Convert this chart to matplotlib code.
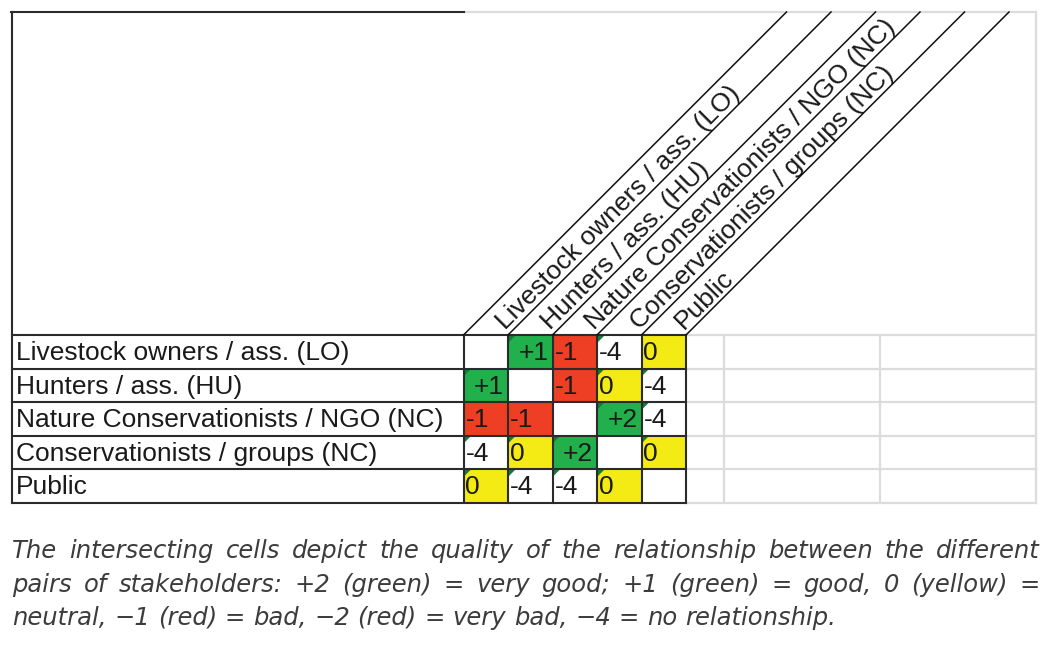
import matplotlib
matplotlib.use("Agg")
import matplotlib.pyplot as plt
from matplotlib.patches import Rectangle, Polygon

# stakeholders (rows and diagonal column headers)
stakeholders = [
    "Livestock owners / ass. (LO)",
    "Hunters / ass. (HU)",
    "Nature Conservationists / NGO (NC)",
    "Conservationists / groups (NC)",
    "Public",
]

# relationship quality, None = same stakeholder
relations = [
    [None, 1, -1, -4, 0],
    [1, None, -1, 0, -4],
    [-1, -1, None, 2, -4],
    [-4, 0, 2, None, 0],
    [0, -4, -4, 0, None],
]

# small green corner markers (spreadsheet flags)
flagged = [
    [0, 1, 0, 1, 0],
    [1, 0, 0, 1, 1],
    [0, 0, 0, 1, 1],
    [1, 1, 1, 0, 1],
    [1, 1, 1, 1, 0],
]

caption_lines = [
    "The intersecting cells depict the quality of the relationship between the different",
    "pairs of stakeholders: +2 (green) = very good; +1 (green) = good, 0 (yellow) =",
    "neutral, \u22121 (red) = bad, \u22122 (red) = very bad, \u22124 = no relationship.",
]

GREEN = "#21b04b"
RED = "#ee3e24"
YELLOW = "#f4eb14"
FLAG = "#177a38"
DARK = "#2b2b2b"
LIGHT = "#dcdcdc"
FS = 19


def cell_color(v):
    if v is None or v == -4:
        return "white"
    if v > 0:
        return GREEN
    if v == 0:
        return YELLOW
    return RED


def cell_text(v):
    if v is None:
        return ""
    if v > 0:
        return "+%d" % v
    return "%d" % v


plt.rcParams["font.family"] = ["Liberation Sans", "DejaVu Sans"]

fig = plt.figure(figsize=(10.51, 6.52), dpi=100)
ax = fig.add_axes([0, 0, 1, 1])
ax.set_xlim(0, 1051)
ax.set_ylim(652, 0)
ax.axis("off")

# layout (pixels)
left, top = 12, 12
grid_x0 = 463.5
cw, rh = 44.5, 33.5
grid_y0 = 335
n = len(stakeholders)
grid_x1 = grid_x0 + n * cw
grid_y1 = grid_y0 + n * rh
right = 1036
extra_cols = [grid_x1, 724, 880, right]

# light grey spreadsheet frame on the right
ax.plot([grid_x0, right], [top, top], color=LIGHT, lw=1.6, zorder=1)
ax.plot([right, right], [top, grid_y1], color=LIGHT, lw=1.6, zorder=1)
for i in range(n + 1):
    y = grid_y0 + i * rh
    ax.plot([grid_x1, right], [y, y], color=LIGHT, lw=1.6, zorder=1)
for x in extra_cols[1:-1]:
    ax.plot([x, x], [grid_y0, grid_y1], color=LIGHT, lw=1.6, zorder=1)

# cells
for r, row in enumerate(relations):
    for c, v in enumerate(row):
        x = grid_x0 + c * cw
        y = grid_y0 + r * rh
        ax.add_patch(Rectangle((x, y), cw, rh, facecolor=cell_color(v),
                               edgecolor="none", zorder=2))
        if flagged[r][c]:
            ax.add_patch(Polygon([(x, y), (x + 8, y), (x, y + 8)],
                                 closed=True, facecolor=FLAG,
                                 edgecolor="none", zorder=3))
        txt = cell_text(v)
        if not txt:
            continue
        if v > 0:
            ax.text(x + cw - 4, y + rh / 2 + 1.5, txt, ha="right", va="center",
                    fontsize=FS, color="#1a1a1a", zorder=4)
        else:
            ax.text(x + 2, y + rh / 2 + 1.5, txt, ha="left", va="center",
                    fontsize=FS, color="#1a1a1a", zorder=4)

# row labels
for r, name in enumerate(stakeholders):
    ax.text(left + 4, grid_y0 + r * rh + rh / 2 + 1.5, name, ha="left",
            va="center", fontsize=FS, color="#1a1a1a", zorder=4)

# dark grid lines
for i in range(n + 1):
    y = grid_y0 + i * rh
    ax.plot([left, grid_x1], [y, y], color=DARK, lw=1.5, zorder=5)
ax.plot([left, left], [top, grid_y1], color=DARK, lw=1.5, zorder=5)
ax.plot([left - 0.7, grid_x0], [top, top], color=DARK, lw=1.5, zorder=5)
for c in range(n + 1):
    x = grid_x0 + c * cw
    ax.plot([x, x], [grid_y0, grid_y1], color=DARK, lw=1.5, zorder=5)

# diagonal header lines at 45 degrees
h = grid_y0 - top
for c in range(n + 1):
    x = grid_x0 + c * cw
    ax.plot([x, x + h], [grid_y0, top], color="#111111", lw=1.1, zorder=5)

# diagonal header labels, baseline close to the right-hand line
for c, name in enumerate(stakeholders):
    ax.text(grid_x0 + 42 + c * cw, grid_y0 - 5, name, rotation=45,
            rotation_mode="anchor", ha="left", va="baseline",
            fontsize=FS, color="#1a1a1a", zorder=4)

# justified italic caption
renderer = fig.canvas.get_renderer()
cap_left, cap_right = 12, 1040
baselines = [558, 592, 625]
cap_font = dict(fontsize=17.5, style="italic", color="#3c3c3c",
                family=["DejaVu Sans"])
for li, line in enumerate(caption_lines):
    words = line.split(" ")
    objs = []
    widths = []
    for w in words:
        t = ax.text(0, baselines[li], w, ha="left", va="baseline", **cap_font)
        objs.append(t)
        widths.append(t.get_window_extent(renderer).width)
    if li < len(caption_lines) - 1:
        gap = (cap_right - cap_left - sum(widths)) / (len(words) - 1)
    else:
        sp = ax.text(0, 0, "a a", **cap_font)
        one = ax.text(0, 0, "aa", **cap_font)
        gap = sp.get_window_extent(renderer).width - one.get_window_extent(renderer).width
        sp.remove()
        one.remove()
    x = cap_left
    for t, wd in zip(objs, widths):
        t.set_x(x)
        x += wd + gap

fig.savefig("out.png", dpi=100)
